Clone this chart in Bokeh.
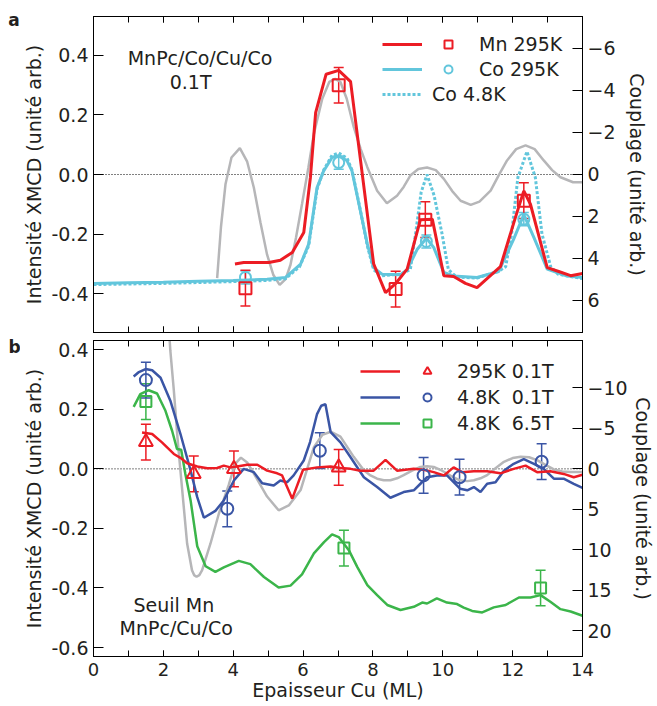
from bokeh.plotting import figure
from bokeh.models import (Range1d, LinearAxis, SingleIntervalTicker, FixedTicker,
                          NumeralTickFormatter, Span, Label, Legend, LegendItem,
                          Whisker, TeeHead, ColumnDataSource)
from bokeh.core.properties import value
from bokeh.layouts import column, row
from bokeh.embed import file_html
from bokeh.resources import INLINE

# ---------------- data: panel a ----------------
mn295_x = [4.05, 4.30, 5.02, 5.35, 5.69, 6.02, 6.21, 6.36, 6.66, 7.02, 7.36, 8.02, 8.36, 8.64,
           8.98, 9.36, 9.70, 10.03, 10.31, 10.65, 10.98, 11.65, 12.08, 12.32, 12.51, 12.99,
           13.32, 13.66, 14.0]
mn295_y = [-0.301, -0.296, -0.296, -0.288, -0.262, -0.195, -0.010, 0.208, 0.337, 0.350, 0.312,
           -0.300, -0.397, -0.368, -0.318, -0.152, -0.150, -0.340, -0.343, -0.366, -0.380,
           -0.310, -0.144, -0.055, -0.100, -0.313, -0.326, -0.340, -0.333]

co295_x = [0.0, 1.0, 2.0, 3.0, 4.0, 4.97, 5.50, 5.93, 6.16, 6.40, 6.59, 6.83, 7.02, 7.26, 7.40,
           7.64, 7.84, 8.02, 8.26, 8.79, 8.98, 9.27, 9.53, 9.74, 10.03, 10.31, 10.98, 11.60,
           12.03, 12.32, 12.61, 12.99, 13.56, 14.0]
co295_y = [-0.366, -0.364, -0.362, -0.359, -0.356, -0.352, -0.346, -0.301, -0.234, -0.044, 0.012,
           0.057, 0.063, 0.046, 0.012, -0.122, -0.234, -0.313, -0.335, -0.337, -0.320, -0.251,
           -0.214, -0.245, -0.329, -0.341, -0.346, -0.326, -0.217, -0.135, -0.212, -0.318,
           -0.341, -0.346]

co48_x = [0.0, 2.0, 4.0, 4.97, 5.50, 5.90, 6.16, 6.40, 6.59, 6.83, 7.02, 7.26, 7.40, 7.64, 7.84,
          8.02, 8.26, 8.79, 9.07, 9.22, 9.38, 9.55, 9.75, 9.98, 10.16, 10.40, 10.98, 11.60,
          11.80, 11.97, 12.15, 12.41, 12.65, 12.84, 13.09, 13.30, 14.0]
co48_y = [-0.370, -0.366, -0.360, -0.356, -0.350, -0.310, -0.240, -0.050, 0.015, 0.065, 0.072,
          0.055, 0.015, -0.120, -0.240, -0.320, -0.340, -0.335, -0.320, -0.200, -0.060, 0.000,
          -0.070, -0.200, -0.320, -0.345, -0.348, -0.325, -0.310, -0.200, -0.010, 0.077,
          -0.010, -0.200, -0.310, -0.335, -0.350]

theo_a_x = [3.54, 3.65, 3.78, 3.95, 4.19, 4.40, 4.59, 4.78, 4.97, 5.15, 5.33, 5.50, 5.64, 5.80,
            5.97, 6.15, 6.31, 6.55, 6.75, 6.92, 7.07, 7.25, 7.45, 7.65, 7.84, 8.12, 8.40, 8.69,
            8.88, 9.07, 9.30, 9.55, 9.80, 10.03, 10.27, 10.51, 10.80, 11.05, 11.37, 11.60,
            11.84, 12.10, 12.37, 12.63, 12.89, 13.13, 13.37, 13.73, 14.0]
theo_a_c = [4.95, 2.5, 0.46, -0.8, -1.25, -0.6, 0.63, 2.3, 3.83, 4.8, 5.27, 5.0, 4.31, 3.0,
            1.42, -0.3, -1.94, -3.6, -4.4, -4.55, -4.4, -3.6, -2.26, -1.2, -0.34, 0.78, 1.38,
            1.02, 0.6, 0.06, -0.25, -0.32, -0.2, 0.22, 0.8, 1.26, 1.46, 1.3, 0.78, 0.05,
            -0.66, -1.2, -1.38, -1.2, -0.66, -0.2, 0.14, 0.38, 0.38]

mn_pts_x = [4.35, 7.02, 8.65, 9.50, 12.32]
mn_pts_y = [-0.382, 0.300, -0.385, -0.152, -0.088]
mn_pts_err = [0.06, 0.06, 0.06, 0.06, 0.06]
co_pts_x = [4.35, 7.02, 9.53, 12.32]
co_pts_y = [-0.346, 0.040, -0.225, -0.150]
co_pts_err = [0.022, 0.022, 0.022, 0.022]

# ---------------- data: panel b ----------------
r295_x = [1.39, 1.68, 1.96, 2.30, 2.49, 2.68, 2.97, 3.26, 3.54, 3.73, 3.92, 4.11, 4.40, 4.69,
          4.97, 5.26, 5.40, 5.69, 6.00, 6.40, 6.79, 7.07, 7.36, 7.64, 8.02, 8.36, 8.69, 9.17,
          9.45, 9.74, 10.03, 10.31, 10.55, 10.89, 11.27, 11.65, 12.03, 12.37, 12.70, 13.08,
          13.46, 13.75, 14.0]
r295_y = [0.122, 0.117, 0.089, 0.050, 0.037, 0.019, 0.008, 0.002, 0.003, 0.011, 0.005, 0.008,
          0.014, 0.014, -0.006, -0.015, -0.022, -0.100, -0.003, 0.005, 0.008, 0.003, 0.0,
          -0.006, -0.006, 0.030, -0.006, 0.0, -0.003, -0.011, -0.022, 0.005, -0.011, -0.008,
          -0.008, -0.015, 0.0, 0.011, -0.011, -0.008, -0.017, -0.028, -0.020]

b48_x = [1.15, 1.30, 1.49, 1.68, 1.92, 2.20, 2.49, 2.78, 2.97, 3.16, 3.49, 3.73, 4.02, 4.30,
         4.59, 4.83, 5.16, 5.35, 5.54, 5.73, 6.02, 6.20, 6.40, 6.52, 6.64, 6.79, 7.07, 7.36,
         7.74, 8.12, 8.50, 8.88, 9.17, 9.36, 9.55, 9.83, 10.12, 10.50, 10.70, 10.89, 11.08,
         11.27, 11.51, 11.75, 12.03, 12.32, 12.61, 12.89, 13.18, 13.46, 13.75, 14.0]
b48_y = [0.310, 0.325, 0.335, 0.331, 0.306, 0.229, 0.117, -0.006, -0.095, -0.164, -0.141,
         -0.106, -0.039, 0.0, -0.011, -0.048, -0.056, -0.039, -0.045, -0.022, 0.028, 0.090,
         0.184, 0.212, 0.217, 0.123, 0.089, 0.039, -0.028, -0.061, -0.097, -0.078, -0.072,
         -0.050, -0.028, -0.022, -0.022, -0.067, -0.072, -0.061, -0.078, -0.050, -0.045,
         -0.006, 0.017, 0.033, 0.017, 0.0, -0.033, -0.033, -0.050, -0.064]

g65_x = [1.15, 1.34, 1.58, 1.82, 2.06, 2.25, 2.39, 2.51, 2.63, 2.78, 2.97, 3.21, 3.49, 3.73,
         4.16, 4.49, 4.88, 5.30, 5.64, 5.97, 6.31, 6.60, 6.83, 7.02, 7.31, 7.55, 7.84, 8.12,
         8.41, 8.79, 9.17, 9.41, 9.55, 9.83, 10.12, 10.41, 10.60, 10.84, 11.13, 11.46, 11.80,
         12.18, 12.51, 12.80, 13.08, 13.37, 13.66, 14.0]
g65_y = [0.208, 0.251, 0.264, 0.253, 0.195, 0.128, 0.067, 0.064, -0.017, -0.106, -0.260,
         -0.327, -0.346, -0.331, -0.309, -0.320, -0.363, -0.398, -0.392, -0.354, -0.284,
         -0.246, -0.220, -0.229, -0.273, -0.329, -0.390, -0.424, -0.457, -0.474, -0.463,
         -0.449, -0.452, -0.435, -0.449, -0.454, -0.466, -0.477, -0.482, -0.465, -0.457,
         -0.432, -0.432, -0.424, -0.446, -0.471, -0.479, -0.493]

theo_b_x = [2.15, 2.20, 2.30, 2.41, 2.54, 2.68, 2.82, 2.88, 2.95, 3.03, 3.11, 3.35, 3.59, 3.87,
            4.05, 4.22, 4.40, 4.59, 4.97, 5.30, 5.59, 5.93, 6.31, 6.55, 6.79, 7.07, 7.45,
            7.74, 7.93, 8.12, 8.31, 8.50, 8.69, 8.88, 9.12, 9.36, 9.55, 9.74, 9.93, 10.12,
            10.31, 10.50, 10.70, 10.89, 11.08, 11.27, 11.51, 11.75, 12.00, 12.23, 12.47,
            12.70, 12.94, 13.18, 13.42, 13.66, 14.0]
theo_b_c = [-18.0, -14.6, -9.7, -3.55, 2.6, 9.2, 12.5, 13.1, 13.3, 13.1, 12.5, 9.2, 5.5, 2.0,
            -0.6, -1.4, -0.8, 0.56, 3.4, 5.1, 4.5, 2.6, -2.7, -4.2, -4.6, -4.0, -1.5,
            0.15, 0.8, 1.2, 1.4, 1.4, 1.15, 0.76, 0.2, -0.26, -0.35, -0.26, 0.1, 0.56,
            1.05, 1.4, 1.5, 1.4, 1.15, 0.76, -0.1, -0.88, -1.35, -1.5, -1.45,
            -1.1, -0.5, 0.06, 0.3, 0.36, 0.36]

tri_x = [1.50, 2.87, 4.02, 7.02]
tri_y = [0.090, -0.017, 0.0, 0.005]
tri_err = [0.06, 0.06, 0.06, 0.06]
circ_x = [1.50, 3.83, 6.48, 9.45, 10.48, 12.83]
circ_y = [0.298, -0.134, 0.061, -0.022, -0.028, 0.024]
circ_err = [0.06, 0.06, 0.06, 0.06, 0.06, 0.06]
sq_x = [1.50, 7.17, 12.80]
sq_y = [0.226, -0.266, -0.400]
sq_err = [0.06, 0.06, 0.06]

# ---------------- ticks / labels ----------------
ya_ticks = [-0.4, -0.2, 0.0, 0.2, 0.4]
ca_ticks = [-6, -4, -2, 0, 2, 4, 6]
yb_ticks = [-0.6, -0.4, -0.2, 0.0, 0.2, 0.4]
cb_ticks = [-10, -5, 0, 5, 10, 15, 20]

FONT = "DejaVu Sans"
TXT = "#231f20"
RED = "#ec1c24"
CYAN = "#62c6dc"
GRAY = "#b6b6b8"
BLUE = "#3a55a5"
GREEN = "#3bb54a"

W = 637
xr = Range1d(0, 14)


def x_axis(labels):
    ax = LinearAxis(ticker=SingleIntervalTicker(interval=2, num_minor_ticks=2))
    ax.major_tick_in = 6
    ax.major_tick_out = 0
    ax.minor_tick_in = 6
    ax.minor_tick_out = 0
    ax.axis_line_color = "black"
    ax.major_tick_line_color = "black"
    ax.minor_tick_line_color = "black"
    if labels:
        ax.major_label_text_font = FONT
        ax.major_label_text_font_size = "18px"
        ax.major_label_text_color = TXT
        ax.major_label_standoff = 6
        ax.axis_label = "Epaisseur Cu (ML)"
        ax.axis_label_text_font = FONT
        ax.axis_label_text_font_size = "19px"
        ax.axis_label_text_font_style = "normal"
        ax.axis_label_text_color = TXT
        ax.axis_label_standoff = 0
    else:
        ax.major_label_text_font_size = "0px"
        ax.major_label_text_color = None
        ax.major_label_standoff = 0
    return ax


def y_axes(p, ticks, cticks, fmt, c_standoff):
    ax = LinearAxis(ticker=FixedTicker(ticks=ticks), formatter=NumeralTickFormatter(format=fmt))
    ax.major_tick_in = 10
    ax.major_tick_out = 0
    ax.minor_tick_line_color = None
    ax.major_label_text_font = FONT
    ax.major_label_text_font_size = "19px"
    ax.major_label_text_color = TXT
    ax.major_label_standoff = 5
    ax.axis_label = "Intensité XMCD (unité arb.)"
    ax.axis_label_text_font = FONT
    ax.axis_label_text_font_size = "19px"
    ax.axis_label_text_font_style = "normal"
    ax.axis_label_text_color = TXT
    ax.axis_label_standoff = 3
    p.add_layout(ax, "left")
    cx = LinearAxis(y_range_name="c", ticker=FixedTicker(ticks=cticks))
    cx.major_tick_in = 10
    cx.major_tick_out = 0
    cx.minor_tick_line_color = None
    cx.major_label_text_font = FONT
    cx.major_label_text_font_size = "19px"
    cx.major_label_text_color = TXT
    cx.major_label_standoff = 5
    cx.axis_label = "Couplage (unité arb.)"
    cx.axis_label_text_font = FONT
    cx.axis_label_text_font_size = "19px"
    cx.axis_label_text_font_style = "normal"
    cx.axis_label_text_color = TXT
    cx.axis_label_standoff = c_standoff
    p.add_layout(cx, "right")


def base_fig(height, top, bottom, yr, cr):
    p = figure(width=W, height=height, x_range=xr, y_range=Range1d(*yr),
               output_backend="svg", toolbar_location=None,
               x_axis_location=None, y_axis_location=None,
               min_border_left=73, min_border_right=75,
               min_border_top=top, min_border_bottom=bottom)
    p.extra_y_ranges = {"c": Range1d(*cr)}
    p.xgrid.visible = False
    p.ygrid.visible = False
    p.outline_line_color = "black"
    p.outline_line_width = 1
    p.background_fill_color = "white"
    p.border_fill_color = "white"
    p.add_layout(Span(location=0, dimension="width", line_color="black", line_width=1,
                      line_dash="1 2", level="underlay"))
    return p


def errbars(p, xs, ys, errs, color):
    src = ColumnDataSource(dict(x=xs, lo=[y - e for y, e in zip(ys, errs)],
                                hi=[y + e for y, e in zip(ys, errs)]))
    p.add_layout(Whisker(source=src, base="x", lower="lo", upper="hi", dimension="height",
                         line_color=color, line_width=1.5,
                         upper_head=TeeHead(size=10, line_color=color, line_width=1.5),
                         lower_head=TeeHead(size=10, line_color=color, line_width=1.5)))


def legend(items, loc, gw, standoff, spacing):
    return Legend(items=items, location=loc, glyph_width=gw, glyph_height=22,
                  label_height=22, label_standoff=standoff, spacing=spacing, padding=0, margin=0,
                  background_fill_alpha=0, border_line_alpha=0,
                  label_text_font=FONT, label_text_font_size="19px", label_text_color=TXT)


# ---------------- panel a ----------------
p1 = base_fig(336, 16, 4, (-0.531, 0.531), (7.54, -7.52))
p1.add_layout(x_axis(False), "below")
p1.add_layout(x_axis(False), "above")
y_axes(p1, ya_ticks, ca_ticks, "0.0", 7)

p1.line(theo_a_x, theo_a_c, y_range_name="c", line_color=GRAY, line_width=2.5)
r_co48 = p1.line(co48_x, co48_y, line_color=CYAN, line_width=3, line_dash="3 2")
r_co = p1.line(co295_x, co295_y, line_color=CYAN, line_width=3)
r_mn = p1.line(mn295_x, mn295_y, line_color=RED, line_width=3)
errbars(p1, co_pts_x, co_pts_y, co_pts_err, CYAN)
errbars(p1, mn_pts_x, mn_pts_y, mn_pts_err, RED)
s_co = p1.scatter(co_pts_x, co_pts_y, marker="circle", size=11, fill_color=None,
                  line_color=CYAN, line_width=2)
s_mn = p1.scatter(mn_pts_x, mn_pts_y, marker="square", size=12, fill_color=None,
                  line_color=RED, line_width=2)

p1.add_layout(legend([LegendItem(label=value(" "), renderers=[r_mn]),
                      LegendItem(label=value(" "), renderers=[r_co]),
                      LegendItem(label=value("Co 4.8K"), renderers=[r_co48])],
                     (289, 227), 40, 10, 3))
p1.add_layout(legend([LegendItem(label=value("Mn 295K"), renderers=[s_mn]),
                      LegendItem(label=value("Co 295K"), renderers=[s_co])],
                     (345, 252), 20, 21, 3))

for txt, xx, yy in [("MnPc/Co/Cu/Co", 3.05, 0.393), ("0.1T", 2.78, 0.310)]:
    p1.add_layout(Label(x=xx, y=yy, text=txt, text_align="center", text_baseline="middle",
                        text_font=FONT, text_font_size="19px", text_color=TXT))

# ---------------- panel b ----------------
p2 = base_fig(370, 4, 50, (-0.630, 0.431), (23.15, -15.86))
p2.add_layout(x_axis(True), "below")
p2.add_layout(x_axis(False), "above")
y_axes(p2, yb_ticks, cb_ticks, "0.0", 1)

p2.line(theo_b_x, theo_b_c, y_range_name="c", line_color=GRAY, line_width=2.5)
r_g = p2.line(g65_x, g65_y, line_color=GREEN, line_width=2.5)
r_b = p2.line(b48_x, b48_y, line_color=BLUE, line_width=2.5)
r_r = p2.line(r295_x, r295_y, line_color=RED, line_width=2.5)
errbars(p2, sq_x, sq_y, sq_err, GREEN)
errbars(p2, circ_x, circ_y, circ_err, BLUE)
errbars(p2, tri_x, tri_y, tri_err, RED)
s_g = p2.scatter(sq_x, sq_y, marker="square", size=11, fill_color=None, line_color=GREEN,
                 line_width=2)
s_b = p2.scatter(circ_x, circ_y, marker="circle", size=12, fill_color=None, line_color=BLUE,
                 line_width=2)
s_r = p2.scatter(tri_x, tri_y, marker="triangle", size=14, fill_color=None, line_color=RED,
                 line_width=2)

p2.add_layout(legend([LegendItem(label=value(" "), renderers=[r_r]),
                      LegendItem(label=value(" "), renderers=[r_b]),
                      LegendItem(label=value(" "), renderers=[r_g])],
                     (267, 222), 40, 10, 4))
p2.add_layout(legend([LegendItem(label=value("295K 0.1T"), renderers=[s_r]),
                      LegendItem(label=value("4.8K  0.1T"), renderers=[s_b]),
                      LegendItem(label=value("4.8K  6.5T"), renderers=[s_g])],
                     (324, 222), 20, 20, 4))

for txt, xx, yy in [("Seuil Mn", 2.30, -0.456), ("MnPc/Cu/Co", 2.37, -0.535)]:
    p2.add_layout(Label(x=xx, y=yy, text=txt, text_align="center", text_baseline="middle",
                        text_font=FONT, text_font_size="19px", text_color=TXT))

# ---------------- panel letters (narrow strip on the left) ----------------
H = 706
strip = figure(width=20, height=H, x_range=Range1d(0, 1), y_range=Range1d(0, 1),
               output_backend="svg", toolbar_location=None,
               x_axis_location=None, y_axis_location=None,
               min_border=0, outline_line_color=None)
strip.xgrid.visible = False
strip.ygrid.visible = False
strip.border_fill_color = "white"
for txt, sx, sy in [("a", 13.5, H - 19), ("b", 14, H - 346.5)]:
    strip.add_layout(Label(x=sx, y=sy, x_units="screen", y_units="screen", text=txt,
                           text_align="center", text_baseline="alphabetic", text_font=FONT,
                           text_font_size="17px", text_font_style="bold", text_color=TXT))

layout = row(strip, column(p1, p2, spacing=0), spacing=0)
open("out.html", "w").write(file_html(layout, INLINE))
